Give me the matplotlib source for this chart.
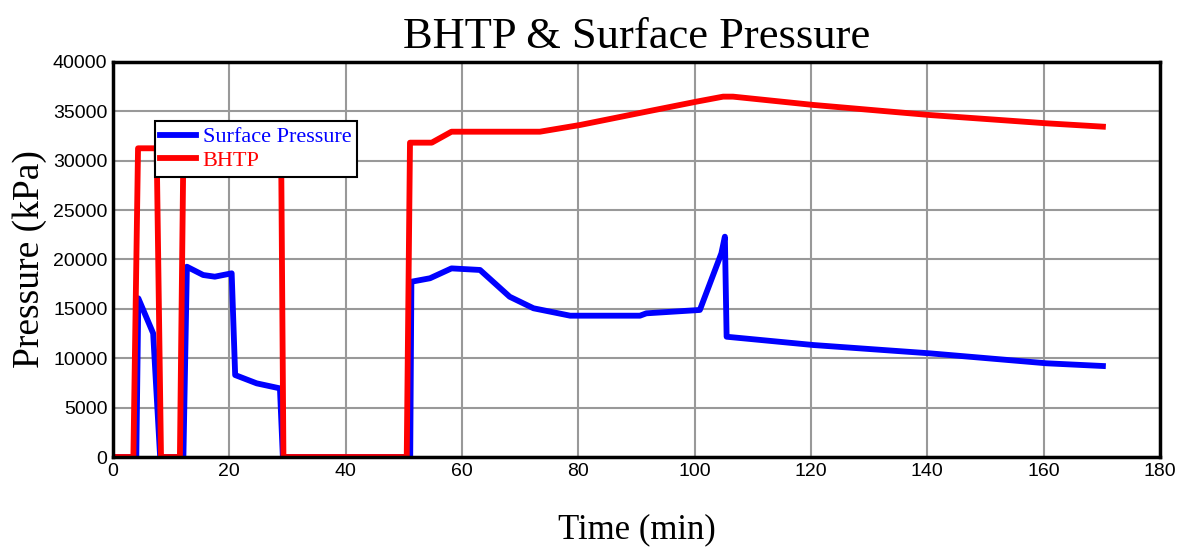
import matplotlib
matplotlib.use("Agg")
import matplotlib.pyplot as plt

# Surface pressure (kPa) vs time (min)
surf_t = [0, 4.0, 4.35, 6.9, 8.1, 12.0, 12.1, 12.7, 15.5, 17.5, 20.4, 21.0, 24.7, 28.7, 29.2,
          50.5, 51.1, 51.3, 54.5, 58.2, 63.1, 68.2, 72.3, 78.6, 90.6, 91.7, 100.9, 104.6,
          105.2, 105.5, 120.4, 140.4, 160.5, 170.2]
surf_p = [0, 0, 16070, 12520, 0, 0, 0, 19270, 18430, 18260, 18600, 8300, 7460, 6950, 0,
          0, 0, 17750, 18100, 19100, 18940, 16230, 15060, 14310, 14310, 14550, 14890, 20630,
          22310, 12180, 11340, 10500, 9490, 9215]

# Bottom-hole treating pressure (kPa)
bhtp_t = [0, 3.5, 4.3, 7.5, 8.25, 11.5, 12.1, 28.9, 29.3, 50.5, 51.06, 54.8, 58.2, 73.4,
          80.3, 91.7, 100.3, 104.9, 106.6, 120.4, 140.4, 160.5, 170.2]
bhtp_p = [0, 0, 31260, 31260, 0, 0, 31260, 31260, 0, 0, 31830, 31830, 32940, 32940,
          33620, 34970, 35980, 36490, 36490, 35650, 34630, 33790, 33450]

x_ticks = list(range(0, 181, 20))
y_ticks = list(range(0, 40001, 5000))

serif = ["Liberation Serif", "DejaVu Serif"]
narrow = ["Liberation Sans Narrow", "Liberation Sans", "DejaVu Sans"]

fig = plt.figure(figsize=(11.86, 5.47), dpi=100)
ax = fig.add_axes([0.0953, 0.1645, 0.8827, 0.7222])

ax.plot(surf_t, surf_p, color="#0000ff", linewidth=4.2, label="Surface Pressure", solid_joinstyle="round")
ax.plot(bhtp_t, bhtp_p, color="#ff0000", linewidth=4.2, label="BHTP", solid_joinstyle="round")

ax.set_xlim(0, 180)
ax.set_ylim(0, 40000)
ax.set_xticks(x_ticks)
ax.set_yticks(y_ticks)
ax.tick_params(length=0, pad=4)
for lab in ax.get_xticklabels() + ax.get_yticklabels():
    lab.set_family(narrow)
    lab.set_fontsize(14)
ax.grid(True, color="#999999", linewidth=1.5)
ax.set_axisbelow(True)
for s in ax.spines.values():
    s.set_linewidth(2.5)
    s.set_color("black")

ax.set_title("BHTP & Surface Pressure", family=serif, fontsize=32, pad=10)
ax.set_xlabel("Time (min)", family=serif, fontsize=25, labelpad=24)
ax.set_ylabel("Pressure (kPa)", family=serif, fontsize=27, labelpad=4)

leg = ax.legend(loc="upper left", bbox_to_anchor=(0.04, 0.85), prop={"family": serif, "size": 16},
                frameon=True, fancybox=False, edgecolor="black", framealpha=1,
                handlelength=1.6, handletextpad=0.3, borderpad=0.25, labelspacing=0.15,
                borderaxespad=0)
leg.get_frame().set_linewidth(1.5)
for txt, c in zip(leg.get_texts(), ["#0000ff", "#ff0000"]):
    txt.set_color(c)

fig.savefig("out.png", dpi=100)
